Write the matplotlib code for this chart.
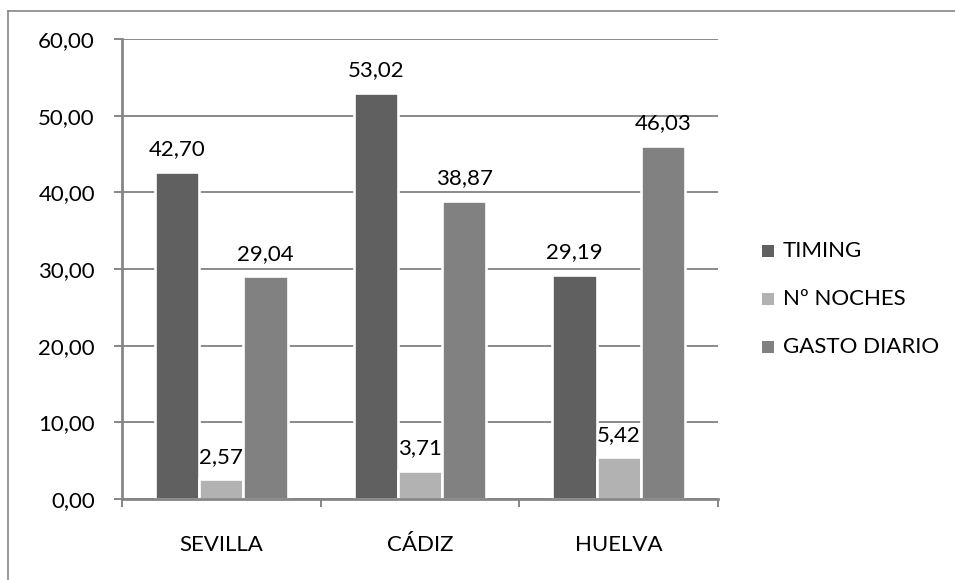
import matplotlib
matplotlib.use("Agg")
import matplotlib.pyplot as plt
import matplotlib.transforms as mtransforms
from matplotlib.patches import Rectangle
from matplotlib.lines import Line2D
import numpy as np

categories = ["SEVILLA", "CÁDIZ", "HUELVA"]
series_names = ["TIMING", "Nº NOCHES", "GASTO DIARIO"]
timing = [42.70, 53.02, 29.19]
noches = [2.57, 3.71, 5.42]
gasto = [29.04, 38.87, 46.03]
yticks = [0, 10, 20, 30, 40, 50, 60]

series = [timing, noches, gasto]
colors = ["#606060", "#b2b2b2", "#818181"]
grid_c = "#868686"

plt.rcParams['font.family'] = ['Lato', 'DejaVu Sans']
FS = 16
W, H = 955, 580
fig = plt.figure(figsize=(W / 100, H / 100), dpi=100)
ax = fig.add_axes([122 / W, 1 - 499 / H, (718 - 122) / W, (499 - 39) / H])

x = np.arange(len(categories))
slot = 0.223
for k, vals in enumerate(series):
    pos = x + (k - 1) * slot
    ax.bar(pos, vals, width=slot, color=colors[k], edgecolor="white",
           linewidth=1.9, zorder=2)
    for xi, v in zip(pos, vals):
        ax.annotate(f"{v:.2f}".replace(".", ","), xy=(xi, v), xytext=(0, 12),
                    textcoords="offset points", ha="center", va="baseline",
                    fontsize=FS, color="black", zorder=4)

ax.set_xlim(-0.5, len(categories) - 0.5)
ax.set_ylim(0, 60)
ax.set_yticks(yticks)
ax.set_yticklabels([f"{t:.2f}".replace(".", ",") for t in yticks], fontsize=FS)
ax.yaxis.grid(True, color=grid_c, linewidth=1.35, zorder=1)
ax.set_axisbelow(True)
ax.tick_params(axis="y", length=6, width=1.4, color=grid_c, pad=13.5)

# category boundaries as x ticks, labels placed at centres
ax.set_xticks(np.arange(len(categories) + 1) - 0.5)
ax.set_xticklabels([])
ax.tick_params(axis="x", length=5.5, width=1.4, color=grid_c, direction="out")
trans = mtransforms.blended_transform_factory(ax.transData, ax.transAxes)
for xi, c in zip(x, categories):
    ax.annotate(c, xy=(xi, 0), xycoords=trans, xytext=(0, -37.2),
                textcoords="offset points", ha="center", va="baseline",
                fontsize=FS, color="black")

for s in ["top", "right"]:
    ax.spines[s].set_visible(False)
for s in ["left", "bottom"]:
    ax.spines[s].set_color(grid_c)
    ax.spines[s].set_linewidth(2.0)
    ax.spines[s].set_zorder(3)

# legend (manual, Excel style)
for k, name in enumerate(series_names):
    yc = 251 + 48 * k
    fig.add_artist(Rectangle((762 / W, 1 - (yc + 6) / H), 12 / W, 12 / H,
                             transform=fig.transFigure, facecolor=colors[k],
                             edgecolor="none"))
    fig.text(783 / W, 1 - yc / H, name, fontsize=FS, va="center", ha="left",
             color="black")

# outer chart border (partially visible)
fig.add_artist(Line2D([8 / W, 8 / W], [0, 1 - 11 / H], transform=fig.transFigure,
                      color=grid_c, linewidth=1.2))
fig.add_artist(Line2D([8 / W, 1], [1 - 11 / H, 1 - 11 / H], transform=fig.transFigure,
                      color=grid_c, linewidth=1.2))

fig.savefig("out.png", dpi=100)
